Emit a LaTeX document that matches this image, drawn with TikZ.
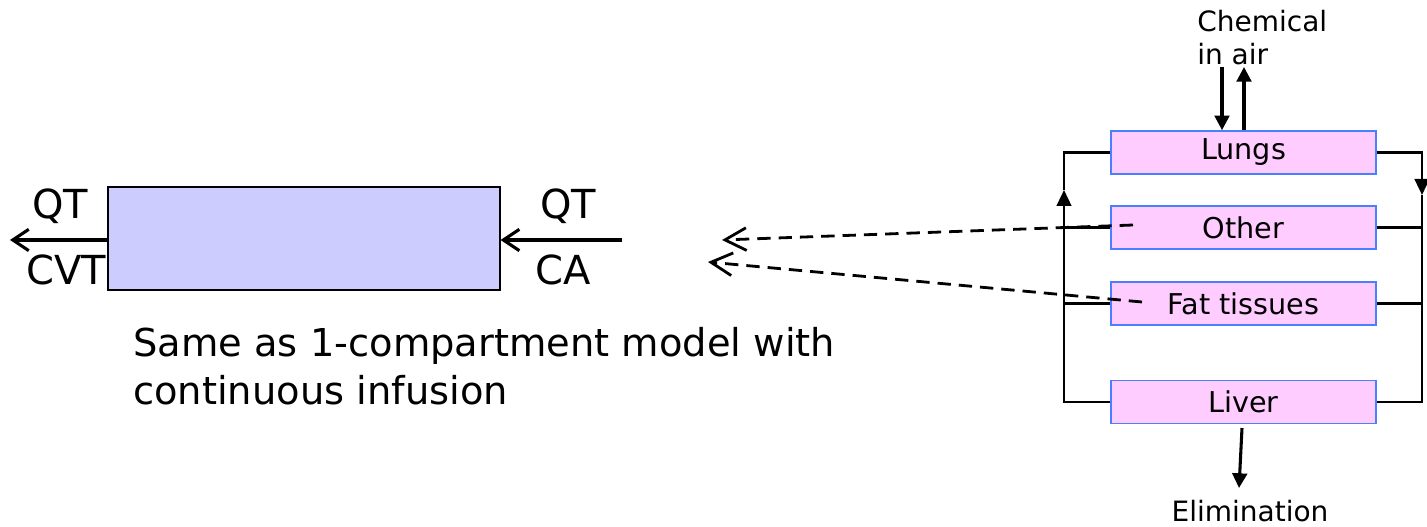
\documentclass[tikz,border=0pt]{standalone}
\usepackage{fontspec}
\setmainfont{DejaVu Sans}
\usetikzlibrary{arrows.meta}
\definecolor{lav}{HTML}{CCCCFF}
\definecolor{orgpink}{HTML}{FFCCFF}
\definecolor{orgblue}{HTML}{4A80FF}
\begin{document}
\begin{tikzpicture}[x=0.75pt,y=-0.75pt,
  organ/.style={draw=orgblue,line width=1.2pt,fill=orgpink,minimum width=198.75pt,minimum height=32.25pt,inner sep=0pt,font=\fontsize{21.5}{25}\selectfont},
  comp/.style={draw=black,line width=0.9pt,fill=lav,minimum width=294pt,minimum height=77.25pt,inner sep=0pt},
  lbl/.style={inner sep=0pt,font=\fontsize{30}{36}\selectfont},
  small/.style={inner sep=0pt,font=\fontsize{21}{25}\selectfont},
  flow/.style={line width=2.3pt,-{Straight Barb[length=12pt,width=16pt,line width=2.3pt]}},
  dasharrow/.style={line width=2.1pt,dash pattern=on 10pt off 6pt,-{Straight Barb[length=16pt,width=17pt,line width=2.1pt]}},
  circ/.style={line width=1.8pt},
  circarrow/.style={line width=1.8pt,-{Triangle[length=12pt,width=11pt]}},
  airarrow/.style={line width=2.3pt,-{Triangle[length=11pt,width=11pt]}}
]
\useasboundingbox (0,0) rectangle (1427,527);

% left compartment
\node[comp] (box) at (304,238.5) {};
\coordinate (outend) at (10,240);
\coordinate (instart) at (622,240);
\draw[flow] (box.west |- outend) -- (outend);
\draw[flow] (instart) -- (box.east |- instart);
\node[lbl] (qtl) at (60,206) {QT};
\node[lbl] (cvt) at (66,270) {CVT};
\node[lbl] (qtr) at (568,206) {QT};
\node[lbl] (ca) at (563,270) {CA};

\node[lbl,anchor=north west,align=left,font=\fontsize{28.8}{36}\selectfont] (note) at (133,327) {Same as 1-compartment model with\\continuous infusion};

% right PBPK diagram
\node[organ] (lungs) at (1243.5,152.5) {Lungs};
\node[organ] (other) at (1243.5,227.5) {Other};
\node[organ] (fat) at (1243.5,303.5) {Fat tissues};
\node[organ] (liver) at (1243.5,402) {Liver};

\coordinate (lup) at (1064,190);
\coordinate (rdn) at (1422,195);
\draw[circarrow] (liver.west) -| (lup);
\draw[circ] (lup) |- (lungs.west);
\draw[circarrow] (lungs.east) -| (rdn);
\draw[circ] (rdn) |- (liver.east);
\draw[circ] (other.west) -- (other.west -| lup);
\draw[circ] (fat.west) -- (fat.west -| lup);
\draw[circ] (other.east) -- (other.east -| rdn);
\draw[circ] (fat.east) -- (fat.east -| rdn);

% chemical in air
\node[small,anchor=north west,align=left] (air) at (1197,10) {Chemical\\in air};
\coordinate (ain) at (1222,67);
\coordinate (aout) at (1244,67);
\draw[airarrow] (ain) -- (ain |- lungs.north);
\draw[airarrow] (aout |- lungs.north) -- (aout);

% elimination
\coordinate (elstart) at (1242,428);
\coordinate (elend) at (1239,488);
\draw[airarrow] (elstart) -- (elend);
\node[small,anchor=base] (elim) at (1250,521) {Elimination};

% dashed arrows
\coordinate (d1s) at (1133,225);
\coordinate (d1e) at (722,240);
\coordinate (d2s) at (1142,302);
\coordinate (d2e) at (708,262);
\draw[dasharrow] (d1s) -- (d1e);
\draw[dasharrow] (d2s) -- (d2e);
\end{tikzpicture}
\end{document}
